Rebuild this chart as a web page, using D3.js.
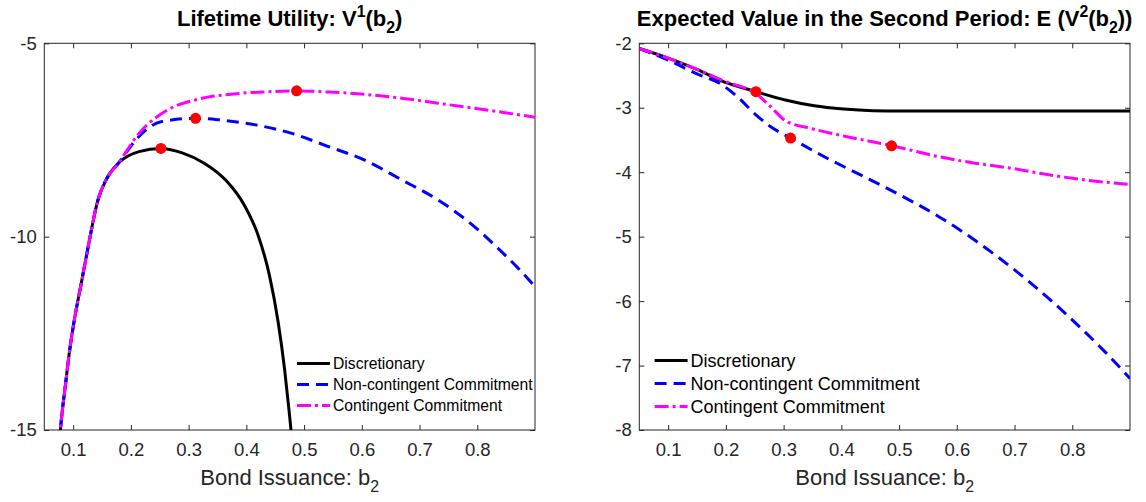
<!DOCTYPE html>
<html>
<head>
<meta charset="utf-8">
<script src="https://cdn.jsdelivr.net/npm/d3@7"></script>
<style>
body { margin: 0; background: #fff; }
svg { display: block; font-family: "Liberation Sans", Arial, Helvetica, sans-serif; }
</style>
</head>
<body>
<script>
// ---- lifetime utility V1(b2) ----
const v1DiscB = [0.076, 0.078, 0.087, 0.094, 0.103, 0.114, 0.125, 0.143, 0.157, 0.179, 0.214, 0.252, 0.290, 0.327, 0.365, 0.397, 0.420, 0.440, 0.455, 0.466, 0.474, 0.478, 0.481]
const v1Disc = [-15.4, -15, -13.79, -12.93, -12.07, -11.21, -10.34, -9.05, -8.53, -8.09, -7.80, -7.72, -7.84, -8.10, -8.55, -9.20, -9.95, -11.0, -12.2, -13.4, -14.5, -15.1, -15.6]
const v1NoncB = [0.076, 0.078, 0.087, 0.094, 0.103, 0.114, 0.125, 0.143, 0.157, 0.179, 0.214, 0.252, 0.312, 0.353, 0.416, 0.479, 0.542, 0.605, 0.669, 0.732, 0.795, 0.833, 0.871, 0.9]
const v1Nonc = [-15.4, -15, -13.79, -12.93, -12.07, -11.21, -10.34, -9.05, -8.53, -8.09, -7.41, -7.03, -6.94, -6.98, -7.11, -7.33, -7.67, -8.02, -8.53, -9.05, -9.74, -10.26, -10.82, -11.29]
const v1ContB = [0.076, 0.078, 0.087, 0.094, 0.103, 0.114, 0.125, 0.143, 0.157, 0.179, 0.214, 0.264, 0.315, 0.378, 0.441, 0.487, 0.542, 0.605, 0.669, 0.732, 0.795, 0.9]
const v1Cont = [-15.4, -15, -13.79, -12.93, -12.07, -11.21, -10.34, -9.05, -8.53, -8.09, -7.33, -6.72, -6.45, -6.31, -6.25, -6.23, -6.26, -6.32, -6.42, -6.55, -6.68, -6.91]
// optimal issuance under each regime
const v1OptB = [0.252, 0.312, 0.487]
const v1Opt = [-7.72, -6.94, -6.23]
const v1Ticks = [-15, -10, -5]

// ---- expected second period value E(V2(b2)) ----
const v2DiscB = [0.05, 0.1, 0.151, 0.189, 0.252, 0.303, 0.353, 0.404, 0.455, 0.505, 0.9]
const v2Disc = [-2.08, -2.23, -2.41, -2.57, -2.75, -2.88, -2.97, -3.02, -3.045, -3.05, -3.05]
const v2NoncB = [0.05, 0.1, 0.151, 0.189, 0.22, 0.252, 0.277, 0.312, 0.379, 0.442, 0.505, 0.569, 0.632, 0.695, 0.758, 0.821, 0.858, 0.9]
const v2Nonc = [-2.08, -2.26, -2.48, -2.62, -2.83, -3.11, -3.29, -3.47, -3.80, -4.08, -4.37, -4.69, -5.06, -5.48, -5.95, -6.47, -6.80, -7.20]
const v2ContB = [0.05, 0.1, 0.151, 0.201, 0.252, 0.277, 0.303, 0.347, 0.41, 0.488, 0.569, 0.632, 0.695, 0.759, 0.822, 0.9]
const v2Cont = [-2.08, -2.23, -2.41, -2.60, -2.78, -2.98, -3.20, -3.32, -3.45, -3.59, -3.76, -3.86, -3.94, -4.04, -4.12, -4.19]
const v2OptB = [0.252, 0.312, 0.487]
const v2Opt = [-2.75, -3.47, -3.59]
const v2Ticks = [-8, -7, -6, -5, -4, -3, -2]

const bTicks = [0.1, 0.2, 0.3, 0.4, 0.5, 0.6, 0.7, 0.8]
const regimes = ['Discretionary', 'Non-contingent Commitment', 'Contingent Commitment']

const styles = [
    { color: '#000000', dash: null },
    { color: '#0000ff', dash: '12,7' },
    { color: '#ff00ff', dash: '14,4,3,4' }
]

const width = 1146
const height = 502
const plotTop = 43.3
const plotBottom = 430
const axisColor = '#262626'
const tickFont = 18.5
const titleFont = 22
const labelFont = 22

const svg = d3.select('body').append('svg')
    .attr('width', width)
    .attr('height', height)

// writes text pieces, raising or lowering the sup / sub ones
function richText(sel, parts, size) {
    let shift = 0
    for (const p of parts) {
        let target = 0
        let fs = size
        if (p.sup) { target = -0.42 * size; fs = size * 0.72 }
        if (p.sub) { target = 0.3 * size; fs = size * 0.72 }
        sel.append('tspan')
            .attr('dy', target - shift)
            .attr('font-size', fs)
            .text(p.t)
        shift = target
    }
}

function drawPanel(cfg) {
    const x = d3.scaleLinear().domain([0.05, 0.9]).range([cfg.left, cfg.right])
    const y = d3.scaleLinear().domain(cfg.yDomain).range([plotBottom, plotTop])
    const g = svg.append('g')

    g.append('clipPath').attr('id', cfg.id + '-clip')
        .append('rect')
        .attr('x', cfg.left).attr('y', plotTop)
        .attr('width', cfg.right - cfg.left).attr('height', plotBottom - plotTop)

    // ticks on all four sides, pointing in
    const xb = g.append('g').attr('transform', `translate(0,${plotBottom})`)
        .call(d3.axisBottom(x).tickValues(bTicks).tickSize(-5).tickSizeOuter(0).tickPadding(13).tickFormat(d3.format('.1f')))
    const xt = g.append('g').attr('transform', `translate(0,${plotTop})`)
        .call(d3.axisTop(x).tickValues(bTicks).tickSize(-5).tickSizeOuter(0).tickFormat(''))
    const yl = g.append('g').attr('transform', `translate(${cfg.left},0)`)
        .call(d3.axisLeft(y).tickValues(cfg.yTicks).tickSize(-5).tickSizeOuter(0).tickPadding(7.5).tickFormat(d => String(d)))
    const yr = g.append('g').attr('transform', `translate(${cfg.right},0)`)
        .call(d3.axisRight(y).tickValues(cfg.yTicks).tickSize(-5).tickSizeOuter(0).tickFormat(''))

    for (const a of [xb, xt, yl, yr]) {
        a.select('.domain').remove()
        a.selectAll('line').attr('stroke', axisColor)
        a.selectAll('text').attr('fill', axisColor).attr('font-size', tickFont)
            .attr('font-family', '"Liberation Sans", Arial, sans-serif')
    }

    g.append('rect')
        .attr('x', cfg.left).attr('y', plotTop)
        .attr('width', cfg.right - cfg.left).attr('height', plotBottom - plotTop)
        .attr('fill', 'none').attr('stroke', axisColor).attr('stroke-width', 1)

    const line = d3.line()
        .x(d => x(d[0]))
        .y(d => y(d[1]))
        .curve(d3.curveMonotoneX)

    const plot = g.append('g').attr('clip-path', `url(#${cfg.id}-clip)`)
    cfg.series.forEach((s, i) => {
        const pts = s.b.map((b, j) => [b, s.v[j]])
        plot.append('path')
            .datum(pts)
            .attr('d', line)
            .attr('fill', 'none')
            .attr('stroke', styles[i].color)
            .attr('stroke-width', 3)
            .attr('stroke-dasharray', styles[i].dash)
    })

    plot.selectAll('circle')
        .data(cfg.optB.map((b, j) => [b, cfg.opt[j]]))
        .join('circle')
        .attr('cx', d => x(d[0]))
        .attr('cy', d => y(d[1]))
        .attr('r', 5.5)
        .attr('fill', '#ff0000')

    const cx = (cfg.left + cfg.right) / 2
    richText(g.append('text')
        .attr('x', cx).attr('y', 26)
        .attr('text-anchor', 'middle')
        .attr('font-weight', 'bold')
        .attr('fill', '#000'), cfg.title, titleFont)

    richText(g.append('text')
        .attr('x', cx).attr('y', 485)
        .attr('text-anchor', 'middle')
        .attr('fill', axisColor), [{ t: 'Bond Issuance: b' }, { t: '2', sub: true }], labelFont)

    // legend, no box
    const lg = cfg.legend
    regimes.forEach((name, i) => {
        const ly = lg.y + i * lg.step
        g.append('line')
            .attr('x1', lg.x).attr('x2', lg.x + 33)
            .attr('y1', ly).attr('y2', ly)
            .attr('stroke', styles[i].color)
            .attr('stroke-width', 3)
            .attr('stroke-dasharray', styles[i].dash)
        g.append('text')
            .attr('x', lg.x + 36).attr('y', ly)
            .attr('dy', '0.35em')
            .attr('font-size', lg.size)
            .attr('fill', '#000')
            .text(name)
    })
}

drawPanel({
    id: 'v1',
    left: 44.3,
    right: 535,
    yDomain: [-15, -5],
    yTicks: v1Ticks,
    series: [
        { b: v1DiscB, v: v1Disc },
        { b: v1NoncB, v: v1Nonc },
        { b: v1ContB, v: v1Cont }
    ],
    optB: v1OptB,
    opt: v1Opt,
    title: [{ t: 'Lifetime Utility: V' }, { t: '1', sup: true }, { t: '(b' }, { t: '2', sub: true }, { t: ')' }],
    legend: { x: 297, y: 363.5, step: 21, size: 15.7 }
})

drawPanel({
    id: 'v2',
    left: 639.3,
    right: 1130,
    yDomain: [-8, -2],
    yTicks: v2Ticks,
    series: [
        { b: v2DiscB, v: v2Disc },
        { b: v2NoncB, v: v2Nonc },
        { b: v2ContB, v: v2Cont }
    ],
    optB: v2OptB,
    opt: v2Opt,
    title: [{ t: 'Expected Value in the Second Period: E (V' }, { t: '2', sup: true }, { t: '(b' }, { t: '2', sub: true }, { t: '))' }],
    legend: { x: 654.6, y: 360.5, step: 23, size: 18 }
})
</script>
</body>
</html>
